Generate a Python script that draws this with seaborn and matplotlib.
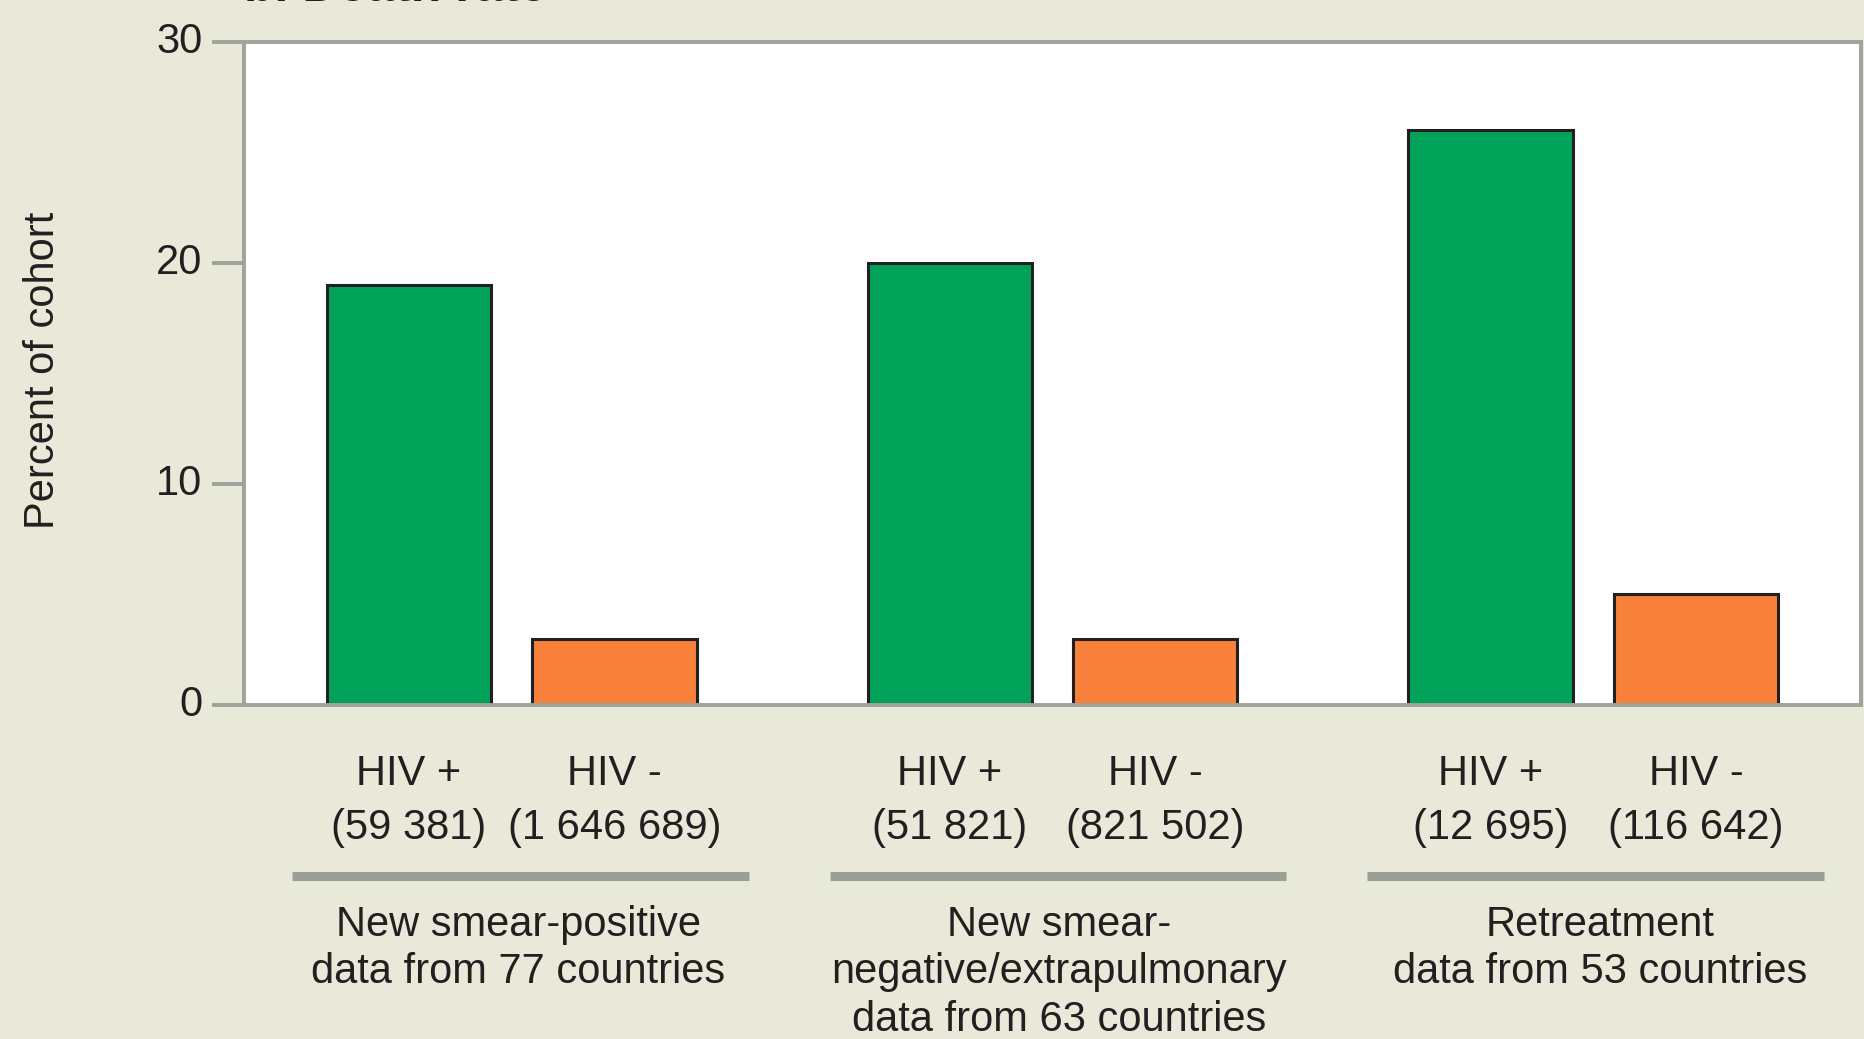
# death_rate_hiv_chart.py

import pandas as pd
import matplotlib.pyplot as plt
import matplotlib.transforms as mtransforms
import seaborn as sns

# --- Data ---
grupos = ["smear_pos", "smear_neg", "retreat"]
grupo_etiquetas = [
    "New smear-positive\ndata from 77 countries",
    "New smear-\nnegative/extrapulmonary\ndata from 63 countries",
    "Retreatment\ndata from 53 countries",
]
estado_hiv = ["HIV +", "HIV -"]
pct_hiv_pos = [19, 20, 26]
pct_hiv_neg = [3, 3, 5]
n_hiv_pos = ["(59 381)", "(51 821)", "(12 695)"]
n_hiv_neg = ["(1 646 689)", "(821 502)", "(116 642)"]

df = pd.DataFrame({
    "grupo": grupos * 2,
    "estado": [estado_hiv[0]] * 3 + [estado_hiv[1]] * 3,
    "pct": pct_hiv_pos + pct_hiv_neg,
})

# --- Style ---
sns.set_theme(style="white")
plt.rcParams["font.family"] = ["Liberation Sans", "DejaVu Sans"]
fondo = "#E9E9DA"
gris = "#A0A39B"
texto = "#231F20"

fig = plt.figure(figsize=(18.64, 10.39), dpi=100, facecolor=fondo)
ax = fig.add_axes([0.1309, 0.3215, 0.8675, 0.6381])
ax.set_facecolor("white")

sns.barplot(
    data=df,
    x="grupo",
    y="pct",
    hue="estado",
    order=grupos,
    hue_order=estado_hiv,
    palette=["#00A259", "#F7803A"],
    saturation=1,
    width=0.76,
    gap=0.2,
    edgecolor=texto,
    linewidth=2.2,
    legend=False,
    ax=ax,
)

ax.set_xlim(-0.495, 2.495)
ax.set_ylim(0, 30)
ax.set_yticks([0, 10, 20, 30])
ax.set_xticks([])
ax.set_xlabel("")
ax.set_ylabel("Percent of cohort", fontsize=30, color=texto)
ax.yaxis.set_label_coords(-0.112, 0.504)

for lado in ["left", "right", "top", "bottom"]:
    ax.spines[lado].set_color(gris)
    ax.spines[lado].set_linewidth(2.8)

ax.tick_params(axis="y", direction="out", length=23, width=2.8, color=gris,
               pad=7, labelsize=30, labelcolor=texto, left=True)
desplazar = mtransforms.ScaledTranslation(0, 3 / 72, fig.dpi_scale_trans)
for lbl in ax.get_yticklabels():
    lbl.set_transform(lbl.get_transform() + desplazar)

# --- Labels under each bar ---
trans = ax.get_xaxis_transform()
barras = sorted(ax.patches, key=lambda p: p.get_x())
etiquetas_barras = []
for i in range(len(grupos)):
    etiquetas_barras.append((estado_hiv[0], n_hiv_pos[i]))
    etiquetas_barras.append((estado_hiv[1], n_hiv_neg[i]))

for barra, (estado, n) in zip(barras, etiquetas_barras):
    xc = barra.get_x() + barra.get_width() / 2
    ax.text(xc, -0.104, estado, transform=trans, ha="center", va="center",
            fontsize=30, color=texto, clip_on=False)
    ax.text(xc, -0.185, n, transform=trans, ha="center", va="center",
            fontsize=30, color=texto, clip_on=False)

# --- Group separators and group labels ---
for i, etiqueta in enumerate(grupo_etiquetas):
    xg = i * 0.994 + 0.016
    ax.hlines(-0.258, xg - 0.422, xg + 0.422, transform=trans, color="#9BA097",
              linewidth=6.5, clip_on=False)
    for j, linea in enumerate(etiqueta.split("\n")):
        ax.text(i + 0.012, -0.332 - 0.0715 * j, linea, transform=trans,
                ha="center", va="center", fontsize=30, color=texto, clip_on=False)

fig.text(244 / 1864, 1 - 1 / 1039, "b. Death rate", ha="left", va="baseline",
         fontsize=36, fontweight="bold", color=texto)

plt.savefig("out.png", dpi=100, facecolor=fondo)
